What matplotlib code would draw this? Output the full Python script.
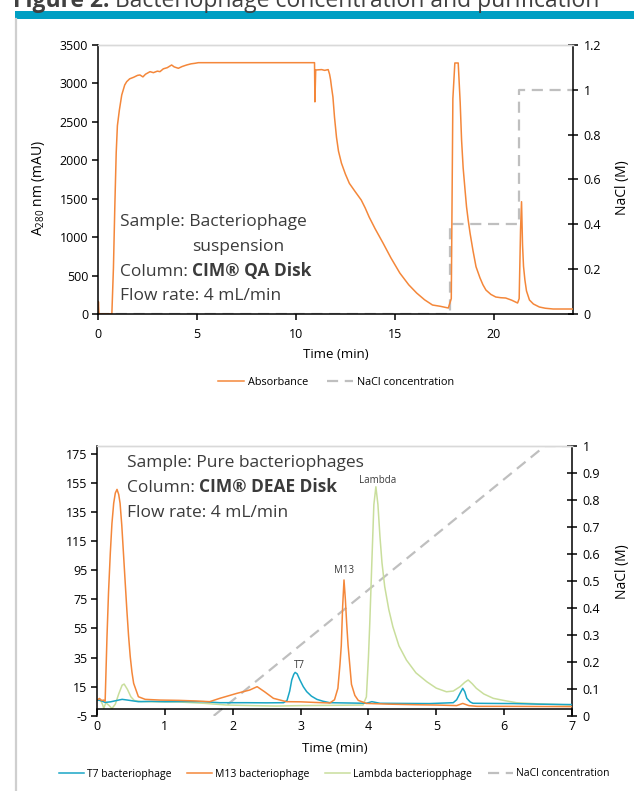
import matplotlib
matplotlib.use("Agg")
import matplotlib.pyplot as plt
from matplotlib.patches import Rectangle
from matplotlib.lines import Line2D
from matplotlib.ticker import FuncFormatter

plt.rcParams['font.family'] = ['Open Sans', 'DejaVu Sans']
plt.rcParams['mathtext.fontset'] = 'custom'
plt.rcParams['mathtext.rm'] = 'Open Sans'
plt.rcParams['axes.unicode_minus'] = False

W, H = 634, 791

# Colors
ORANGE = "#F4873A"
TEAL = "#1AA6C6"
GREEN = "#C9DE9C"
GRAY_DASH = "#BFBFBF"
TEXT = "#3B3B3B"

# ---- Top chart: bacteriophage concentration (CIM QA disk) ----
absTime = [0, 0.02, 0.05, 0.7, 0.78, 0.85, 0.92, 0.98, 1.08, 1.2, 1.35, 1.45, 1.6, 1.8, 2.0,
           2.12, 2.27, 2.4, 2.63, 2.8, 3.0, 3.13, 3.3, 3.5, 3.72, 3.85, 4.06, 4.25, 4.48, 4.7,
           4.9, 5.07, 10.94, 10.96, 11.0, 11.3, 11.45, 11.63, 11.7, 11.75, 11.8, 11.87, 11.95,
           12.05, 12.15, 12.3, 12.5, 12.7, 13.0, 13.3, 13.5, 13.7, 14.0, 14.4, 14.8, 15.25,
           15.7, 16.1, 16.5, 16.9, 17.3, 17.7, 17.85, 17.93, 18.03, 18.2, 18.3, 18.37, 18.45,
           18.55, 18.62, 18.7, 18.8, 18.95, 19.1, 19.3, 19.45, 19.6, 19.85, 20.1, 20.35, 20.6,
           20.9, 21.2, 21.28, 21.35, 21.4, 21.45, 21.5, 21.57, 21.65, 21.8, 22.0, 22.3, 22.6,
           23.0, 24.0]
absValue = [0, 160, 0, 0, 600, 1400, 2100, 2450, 2654, 2850, 2980, 3023, 3060, 3080, 3105,
            3110, 3085, 3120, 3153, 3140, 3160, 3153, 3190, 3205, 3240, 3215, 3197, 3220, 3240, 3255,
            3262, 3270, 3270, 2760, 3175, 3180, 3170, 3180, 3120, 3050, 2950, 2823, 2560,
            2300, 2120, 1963, 1820, 1700, 1590, 1483, 1380, 1262, 1110, 924, 730, 533,
            380, 273, 185, 117, 100, 78, 200, 2800, 3266, 3266, 2750, 2264, 1900,
            1600, 1396, 1230, 1050, 820, 615, 470, 380, 312, 255, 221, 212, 208,
            180, 143, 200, 1100, 1461, 900, 620, 442, 300, 182, 130, 91, 75,
            65, 65]
naclTopTime = [0, 17.78, 17.78, 21.26, 21.26, 24.0]
naclTopConc = [0, 0, 0.4, 0.4, 1.0, 1.0]

# ---- Bottom chart: pure bacteriophages (CIM DEAE disk) ----
t7Time = [0, 0.05, 0.12, 0.2, 0.3, 0.37, 0.45, 0.61, 0.8, 1.0, 1.3, 1.57, 1.81, 2.2, 2.5, 2.75,
          2.8, 2.84, 2.87, 2.9, 2.92, 2.95, 2.99, 3.04, 3.09, 3.16, 3.24, 3.33, 3.43, 3.7, 3.97,
          4.05, 4.17, 4.5, 4.9, 5.25, 5.3, 5.35, 5.39, 5.42, 5.45, 5.5, 5.54, 5.8, 6.13, 6.5, 7.0]
t7Value = [5.8, 5.5, 4.2, 4.6, 5.6, 6.3, 5.8, 4.7, 4.9, 4.7, 4.8, 4.7, 4.0, 4.0, 3.9, 4.0,
           5.5, 12, 19.6, 23.5, 24.8, 23.8, 19.6, 15, 11.6, 8.5, 6.3, 5, 4, 3.8, 3.6,
           4.7, 3.6, 3.5, 3.4, 4, 6, 10.5, 13.9, 11.5, 7, 4.5, 3.6, 3.5, 3.4, 3.0, 2.7]

m13Time = [0, 0.035, 0.07, 0.1, 0.12, 0.147, 0.17, 0.196, 0.22, 0.246, 0.27, 0.295, 0.32, 0.34,
           0.365, 0.39, 0.415, 0.44, 0.465, 0.49, 0.515, 0.54, 0.61, 0.71, 0.93, 1.2, 1.45, 1.66,
           1.81, 2.06, 2.25, 2.36, 2.47, 2.6, 2.79, 3.0, 3.2, 3.43, 3.5, 3.55, 3.58, 3.6, 3.62,
           3.64, 3.66, 3.68, 3.7, 3.75, 3.8, 3.85, 3.97, 4.3, 4.7, 5.0, 5.3, 5.39, 5.48, 5.6,
           6.0, 6.5, 7.0]
m13Value = [5.8, 6.9, 5.5, 5.8, 5.0, 49, 80, 106.6, 127, 141, 148, 150.5, 147, 141,
            126, 106.6, 87, 67.6, 50, 35.6, 25, 17.3, 8.1, 6.3, 5.8, 5.6, 5.2, 4.7,
            7, 10.4, 12.7, 15, 11.5, 7, 4.7, 4.6, 4.2, 3.8, 6, 13.9, 30, 43.3, 70,
            88.3, 75, 58, 43.3, 16.6, 9, 5.6, 3.5, 3.0, 2.6, 2.4, 2.0, 3.5, 2.0, 1.5,
            1.5, 1.4, 1.3]

lambdaTime = [0, 0.05, 0.08, 0.1, 0.13, 0.18, 0.22, 0.27, 0.32, 0.37, 0.4, 0.45, 0.5, 0.55,
              0.65, 0.9, 1.2, 1.57, 1.91, 2.3, 2.64, 3.0, 3.5, 3.92, 3.97, 4.0, 4.02, 4.05,
              4.08, 4.11, 4.14, 4.17, 4.2, 4.24, 4.3, 4.36, 4.45, 4.56, 4.7, 4.86, 5.0, 5.15,
              5.25, 5.35, 5.42, 5.47, 5.53, 5.59, 5.7, 5.84, 6.0, 6.18, 6.5, 6.97]
lambdaValue = [5.8, 5.8, 3, 0.1, 4, 2, 0, 3, 10, 16, 16.8, 13, 8, 5.5,
               4.8, 4.6, 4.5, 3.6, 2.4, 2, 1.7, 2, 2.2, 2.4, 8, 35, 58.7, 100,
               140, 152.3, 140, 118, 100, 83.7, 68, 56.2, 43, 33.3, 24.5, 18.4, 14, 11.5,
               12, 15, 18, 19.6, 17, 13.9, 10, 7, 5.5, 4, 3.2, 2.4]

naclBottomTime = [1.72, 6.6, 7.0]
naclBottomConc = [0, 1.0, 1.0]

topXTicks = [0, 5, 10, 15, 20]
topYTicks = [0, 500, 1000, 1500, 2000, 2500, 3000, 3500]
topNaclTicks = [0, 0.2, 0.4, 0.6, 0.8, 1.0, 1.2]
bottomXTicks = [0, 1, 2, 3, 4, 5, 6, 7]
bottomYTicks = [-5, 15, 35, 55, 75, 95, 115, 135, 155, 175]
bottomNaclTicks = [0, 0.1, 0.2, 0.3, 0.4, 0.5, 0.6, 0.7, 0.8, 0.9, 1.0]


def fx(px):
    return px / W


def fy(py):
    return 1 - py / H


def styleAxes(ax, axr):
    for a in (ax, axr):
        a.spines['top'].set_color("#D9D9D9")
        a.spines['top'].set_linewidth(1.0)
    ax.spines['right'].set_visible(False)
    axr.spines['left'].set_visible(False)
    axr.spines['bottom'].set_visible(False)
    ax.spines['left'].set_linewidth(1.1)
    ax.spines['bottom'].set_linewidth(1.1)
    axr.spines['right'].set_linewidth(1.1)
    ax.tick_params(axis='y', direction='out', length=4, width=1.1, labelsize=9, pad=3, colors="black")
    ax.tick_params(axis='x', direction='out', length=4, width=1.1, labelsize=9, pad=6, colors="black")
    axr.tick_params(axis='y', direction='inout', length=7, width=1.1, labelsize=9, pad=4, colors="black")
    axr.yaxis.set_major_formatter(FuncFormatter(lambda v, p: f"{v:g}"))


def putRuns(fig, xPx, yPx, runs, size, color=TEXT):
    renderer = fig.canvas.get_renderer()
    for text, weight in runs:
        t = fig.text(fx(xPx), fy(yPx), text, fontsize=size, fontweight=weight,
                     va='baseline', ha='left', color=color)
        xPx += t.get_window_extent(renderer).width


fig = plt.figure(figsize=(W / 100, H / 100), dpi=100, facecolor="white")

# Page frame: teal bar, grey left rule and caption (clipped at the top as in the source)
fig.add_artist(Rectangle((fx(15), fy(19)), 1 - fx(15), fy(11) - fy(19),
                         transform=fig.transFigure, color="#009FC3", lw=0))
fig.add_artist(Line2D([fx(16), fx(16)], [0, fy(19)], transform=fig.transFigure,
                      color="#CFCFCF", lw=1.6))
putRuns(fig, 13, 7, [("Figure 2: ", "bold"), ("Bacteriophage concentration and purification", "normal")],
        16.5, color="#404040")

# ---- Top chart ----
ax1 = fig.add_axes([fx(98), fy(314), fx(573) - fx(98), fy(45) - fy(314)])
ax1r = ax1.twinx()
ax1.set_zorder(ax1r.get_zorder() + 1)
ax1.patch.set_visible(False)

ax1r.plot(naclTopTime, naclTopConc, color=GRAY_DASH, lw=1.6, dashes=(5, 3))
ax1.plot(absTime, absValue, color=ORANGE, lw=1.1)

ax1.set_xlim(0, 24)
ax1.set_ylim(0, 3500)
ax1r.set_ylim(0, 1.2)
ax1.set_xticks(topXTicks)
ax1.set_yticks(topYTicks)
ax1r.set_yticks(topNaclTicks)
styleAxes(ax1, ax1r)
ax1.set_xlabel("Time (min)", fontsize=9.5, labelpad=5, color="black")
ax1.set_ylabel(r"A$_\mathregular{280}$ nm (mAU)", fontsize=10, color="black")
ax1.yaxis.set_label_coords(-0.108, 0.47)
ax1r.set_ylabel("NaCl (M)", fontsize=10, color="black")
ax1r.yaxis.set_label_coords(1.088, 0.47)

putRuns(fig, 120, 226, [("Sample: Bacteriophage", "normal")], 12.5)
putRuns(fig, 192, 251, [("suspension", "normal")], 12.5)
putRuns(fig, 120, 276, [("Column: ", "normal"), ("CIM® QA Disk", "bold")], 12.5)
putRuns(fig, 120, 300, [("Flow rate: 4 mL/min", "normal")], 12.5)

topHandles = [Line2D([], [], color=ORANGE, lw=1.1),
              Line2D([], [], color=GRAY_DASH, lw=1.6, dashes=(5, 3))]
fig.legend(topHandles, ["Absorbance", "NaCl concentration"], loc='center',
           bbox_to_anchor=(fx(336), fy(382)), ncol=2, frameon=False, fontsize=7.8,
           handlelength=2.4, handletextpad=0.3, columnspacing=1.8)

# ---- Bottom chart ----
ax2 = fig.add_axes([fx(97), fy(715.8), fx(572) - fx(97), fy(446) - fy(715.8)])
ax2r = ax2.twinx()
ax2.set_zorder(ax2r.get_zorder() + 1)
ax2.patch.set_visible(False)

ax2r.plot(naclBottomTime, naclBottomConc, color=GRAY_DASH, lw=1.6, dashes=(5, 3))
ax2.plot(lambdaTime, lambdaValue, color=GREEN, lw=1.1)
ax2.plot(t7Time, t7Value, color=TEAL, lw=1.1)
ax2.plot(m13Time, m13Value, color=ORANGE, lw=1.1)

ax2.set_xlim(0, 7)
ax2.set_ylim(-5, 180.3)
ax2r.set_ylim(0, 1)
ax2.set_xticks(bottomXTicks)
ax2.set_yticks(bottomYTicks)
ax2r.set_yticks(bottomNaclTicks)
ax2.spines['bottom'].set_position(('data', 0))
styleAxes(ax2, ax2r)
ax2.tick_params(axis='x', pad=4)
ax2.set_xlabel("Time (min)", fontsize=9.5, labelpad=7, color="black")
ax2r.set_ylabel("NaCl (M)", fontsize=10, color="black")
ax2r.yaxis.set_label_coords(1.09, 0.533)

ax2.text(2.99, 27.5, "T7", fontsize=7, ha='center', va='baseline', color=TEXT)
ax2.text(3.64, 93, "M13", fontsize=7, ha='center', va='baseline', color=TEXT)
ax2.text(4.13, 155, "Lambda", fontsize=7, ha='center', va='baseline', color=TEXT)

putRuns(fig, 127, 467, [("Sample: Pure bacteriophages", "normal")], 12.5)
putRuns(fig, 127, 492, [("Column: ", "normal"), ("CIM® DEAE Disk", "bold")], 12.5)
putRuns(fig, 127, 517, [("Flow rate: 4 mL/min", "normal")], 12.5)

bottomHandles = [Line2D([], [], color=TEAL, lw=1.1),
                 Line2D([], [], color=ORANGE, lw=1.1),
                 Line2D([], [], color=GREEN, lw=1.1),
                 Line2D([], [], color=GRAY_DASH, lw=1.6, dashes=(5, 3))]
fig.legend(bottomHandles, ["T7 bacteriophage", "M13 bacteriophage", "Lambda bacteriopphage",
                           "NaCl concentration"], loc='center',
           bbox_to_anchor=(fx(334), fy(774)), ncol=4, frameon=False, fontsize=7.5,
           handlelength=2.4, handletextpad=0.3, columnspacing=1.5)

fig.savefig("out.png", dpi=100, facecolor="white")
